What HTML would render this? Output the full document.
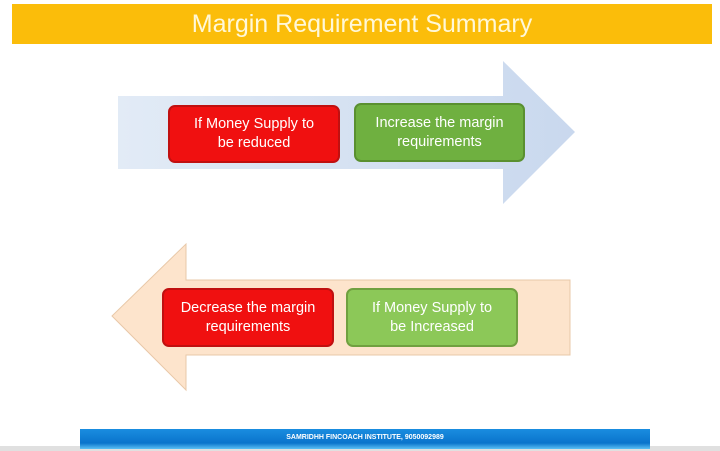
<!DOCTYPE html>
<html><head><style>
body{margin:0;width:720px;height:451px;background:#fff;position:relative;overflow:hidden;font-family:"Liberation Sans",sans-serif}
.t{position:absolute;left:12px;top:4px;width:700px;height:40px;background:#fbbd0a;color:#fff8d8;font-size:25px;text-align:center;line-height:40px}
.b{position:absolute;border-radius:7px;color:#fff;font-size:14.5px;text-align:center;display:flex;align-items:center;justify-content:center;line-height:19px}
.r{background:#f01010;border:2px solid #c01010}
.g{background:#6fb040;border:2px solid #5a9030}
.lg{background:#8cc858;border:2px solid #70a040}
.f{position:absolute;left:80px;top:429px;width:570px;height:20px;background:linear-gradient(#1a8de0,#0a74cc 70%,#5cc0f5);color:#fff;font-size:7px;font-weight:bold;text-align:center;line-height:18px}
</style></head><body>
<div class="t">Margin Requirement Summary</div>
<svg width="720" height="451" style="position:absolute;left:0;top:0">
<defs><linearGradient id="a1" x1="0" x2="1"><stop offset="0" stop-color="#e2ebf6"/><stop offset="1" stop-color="#c9d8ee"/></linearGradient></defs>
<polygon points="118,96 503,96 503,61 575,132 503,204 503,169 118,169" fill="url(#a1)"/>
<polygon points="570,280 186,280 186,244 112,316 186,390 186,355 570,355" fill="#fde4cc" stroke="#e8c8a8" stroke-width="1"/>
<rect x="0" y="446" width="720" height="5" fill="#e0e0e0"/>
</svg>
<div class="b r" style="left:168px;top:105px;width:168px;height:54px">If Money Supply to<br>be reduced</div>
<div class="b g" style="left:354px;top:103px;width:167px;height:55px">Increase the margin<br>requirements</div>
<div class="b r" style="left:162px;top:288px;width:168px;height:55px">Decrease the margin<br>requirements</div>
<div class="b lg" style="left:346px;top:288px;width:168px;height:55px">If Money Supply to<br>be Increased</div>
<div class="f">SAMRIDHH FINCOACH INSTITUTE, 9050092989</div>
</body></html>
